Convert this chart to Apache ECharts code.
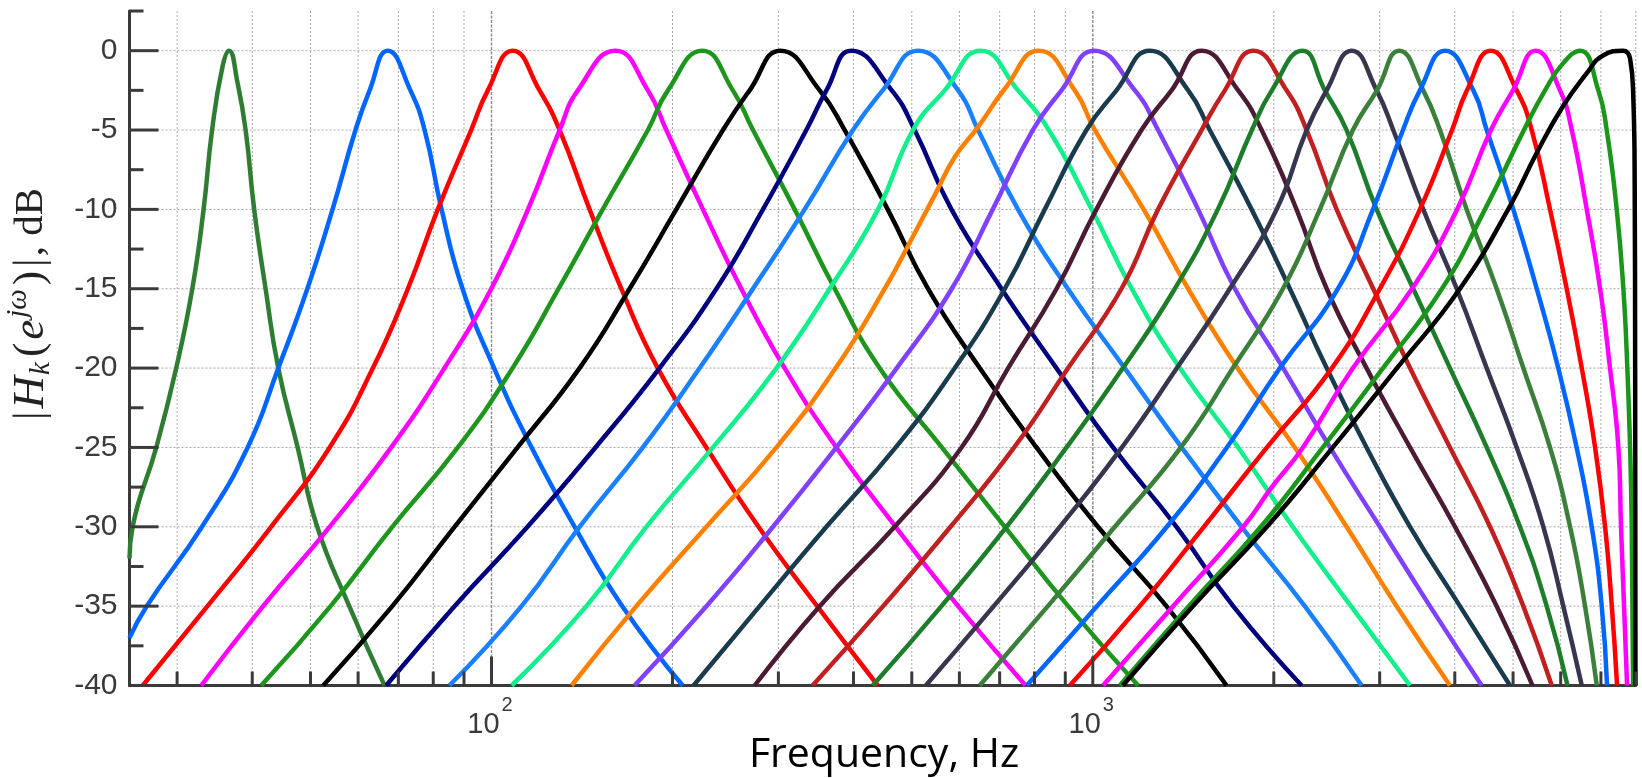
<!DOCTYPE html>
<html>
<head>
<meta charset="utf-8">
<script src="https://cdn.jsdelivr.net/npm/echarts@6/dist/echarts.min.js"></script>
<style>
html,body{margin:0;padding:0;background:#ffffff;}
#chart{width:1642px;height:778px;}
</style>
</head>
<body>
<div id="chart"></div>
<script>
// ---------- axis ranges and ticks ----------
const X_MIN = 25, X_MAX = 8000;
const Y_MIN = -40, Y_MAX = 2.5;
const xGridFreqs = [30,40,50,60,70,80,90,100,200,300,400,500,600,700,800,900,1000,2000,3000,4000,5000,6000,7000,8000];
const xMajorFreqs = [100, 1000];
const xTickBase = ['10', '10'];
const xTickExponent = ['2', '3'];
const yGridValues = [0, -5, -10, -15, -20, -25, -30, -35];
const yTickValues = [2.5, 0, -2.5, -5, -7.5, -10, -12.5, -15, -17.5, -20, -22.5, -25, -27.5, -30, -32.5, -35, -37.5, -40];
const xAxisTitle = 'Frequency, Hz';

// ---------- filter responses: [frequency Hz, magnitude dB] ----------
const filter01 = [[25,-32],[25.3,-30],[27.7,-25],[29.9,-20],[31.8,-15],[33.2,-10],[34.3,-5],[35.7,-1],[36.6,0],[37.8,-2],[39.0,-5],[40.3,-10],[42.1,-15],[44.2,-20],[47.6,-25],[51.3,-30],[58.0,-35],[66.4,-40]];
const filter02 = [[25,-37],[26.7,-35],[33.0,-30],[39.3,-25],[44.2,-20],[49.4,-15],[54.4,-10],[59.4,-5],[62.7,-2.5],[67.2,0],[73.3,-2.5],[77.4,-5],[82.6,-10],[89.5,-15],[101,-20],[116.6,-25],[137.5,-30],[165,-35],[208,-40]];
const filter03 = [[26.3,-40],[33.7,-35],[43.0,-30],[53.8,-25],[63.5,-20],[72.6,-15],[81.4,-10],[92.5,-5],[98.6,-2.5],[108.5,0],[120.2,-2.5],[129.8,-5],[145.6,-10],[164.4,-15],[189,-20],[227.7,-25],[278,-30],[348,-35],[439,-40]];
const filter04 = [[32.9,-40],[41.7,-35],[53.8,-30],[68.1,-25],[83.5,-20],[99.9,-15],[115,-10],[129.8,-5],[139.2,-2.5],[160.8,0],[182,-2.5],[195.3,-5],[224.7,-10],[260.3,-15],[307.3,-20],[374.6,-25],[470,-30],[597,-35],[773,-40]];
const filter05 = [[41.4,-40],[54.0,-35],[68.4,-30],[87.9,-25],[108.4,-20],[129.3,-15],[153.1,-10],[182,-5],[196.5,-2.5],[224.2,0],[252,-2.5],[272.2,-5],[319.3,-10],[372.2,-15],[442,-20],[561,-25],[714,-30],[910,-35],[1190,-40]];
const filter06 = [[52.5,-40],[68.4,-35],[86.8,-30],[110.5,-25],[140.1,-20],[169.7,-15],[202.9,-10],[242.6,-5],[268.7,-2.5],[302.2,0],[351.4,-2.5],[386.7,-5],[456,-10],[532,-15],[648.6,-20],[806,-25],[1020,-30],[1326,-35],[1669,-40]];
const filter07 = [[66.8,-40],[86.8,-35],[114.8,-30],[148.9,-25],[190.3,-20],[236.6,-15],[282.8,-10],[333.9,-5],[360.6,-2.5],[396.7,0],[463.1,-2.5],[505.5,-5],[582,-10],[704.9,-15],[870,-20],[1081,-25],[1378,-30],[1712,-35],[2225,-40]];
const filter08 = [[85.1,-40],[112.2,-35],[140.1,-30],[178.5,-25],[221.9,-20],[272.2,-15],[331.7,-10],[399.2,-5],[447.3,-2.5],[512,0],[597,-2.5],[644.6,-5],[751,-10],[908.7,-15],[1130,-20],[1405,-25],[1768,-30],[2252,-35],[2800,-40]];
const filter09 = [[108,-40],[143.8,-35],[180.9,-30],[233.5,-25],[297.7,-20],[365.1,-15],[439.4,-10],[502.3,-5],[567.2,-2.5],[651.2,0],[751,-2.5],[845,-5],[996,-10],[1161,-15],[1396,-20],[1745,-25],[2151,-30],[2688,-35],[3370,-40]];
const filter10 = [[135.9,-40],[174.1,-35],[227.7,-30],[297.7,-25],[373.6,-20],[450.8,-15],[505.5,-11.5],[545.9,-9.1],[589.5,-6.7],[644.6,-4.8],[714,-2.4],[813.1,0],[933.3,-2.5],[1008,-5],[1215,-10],[1441,-15],[1740,-20],[2168,-25],[2643,-30],[3202,-35],[3927,-40]];
const filter11 = [[172.9,-40],[227.7,-35],[293.9,-30],[374.6,-25],[472,-20],[582.7,-15],[681.7,-10],[794.7,-5],[887,-2.5],[1005,0],[1175,-2.5],[1284,-5],[1497,-10],[1723,-15],[2073,-20],[2480,-25],[3002,-30],[3637,-35],[4434,-40]];
const filter12 = [[216.8,-40],[279.2,-35],[360.6,-30],[470.1,-25],[589.5,-20],[714,-15],[832.1,-10],[976.1,-5],[1095,-2.5],[1244,0],[1441,-2.5],[1565,-5],[1837,-10],[2127,-15],[2449,-20],[2853,-25],[3370,-30],[4080,-35],[4941,-40]];
const filter13 = [[273.9,-40],[351.4,-35],[468.3,-30],[604.8,-25],[723.1,-20],[870.4,-15],[1014,-10],[1205,-5],[1352,-2.5],[1517,0],[1745,-2.5],[1909,-5],[2182,-10],[2449,-15],[2853,-20],[3370,-25],[4003,-30],[4696,-35],[5386,-40]];
const filter14 = [[342,-40],[448,-35],[580,-30],[740,-25],[909.7,-20],[1116,-15],[1284,-10],[1517,-5],[1658,-2.5],[1848,0],[2100,-2.5],[2268,-5],[2544,-10],[2927,-15],[3370,-20],[3927,-25],[4578,-30],[5200,-35],[5798,-40]];
const filter15 = [[430.5,-40],[560.2,-35],[718.7,-30],[904.2,-25],[1122,-20],[1369,-15],[1614,-10],[1839,-5],[1985,-2.5],[2233,0],[2432,-2.5],[2643,-5],[2965,-10],[3412,-15],[3927,-20],[4520,-25],[5134,-30],[5687,-35],[6160,-40]];
const filter16 = [[527.6,-40],[684.4,-35],[881.4,-30],[1118,-25],[1380,-20],[1690,-15],[2022,-10],[2268,-5],[2449,-2.5],[2695,0],[2965,-2.5],[3160,-5],[3545,-10],[4030,-15],[4520,-20],[5070,-25],[5615,-30],[6060,-35],[6505,-40]];
const filter17 = [[648.6,-40],[841.9,-35],[1088,-30],[1401,-25],[1710,-20],[2071,-15],[2386,-10],[2708,-5],[2969,-2.5],[3233,0],[3545,-2.5],[3779,-5],[4186,-10],[4696,-15],[5200,-20],[5760,-25],[6220,-30],[6587,-35],[6890,-40]];
const filter18 = [[776.6,-40],[1016,-35],[1328,-30],[1671,-25],[2047,-20],[2557,-15],[2924,-10],[3280,-5],[3500,-2.5],[3853,0],[4294,-2.5],[4520,-5],[5004,-10],[5474,-15],[5945,-20],[6378,-25],[6758,-30],[7022,-35],[7166,-40]];
const filter19 = [[915.6,-40],[1197,-35],[1530,-30],[1948,-25],[2498,-20],[3002,-15],[3500,-10],[3958,-5],[4191,-2.5],[4588,0],[5070,-2.5],[5370,-5],[5760,-10],[6140,-15],[6505,-20],[6845,-25],[7112,-30],[7298,-35],[7447,-40]];
const filter20 = [[1040,-40],[1360,-35],[1779,-30],[1985,-27.5],[2236,-25],[2708,-20],[3395,-15],[4035,-10],[4594,-5],[4998,-2.5],[5452,0],[5984,-2.5],[6260,-5],[6630,-10],[6978,-15],[7248,-20],[7484,-25],[7560,-30],[7648,-35],[7737,-40]];
const filter21 = [[1109,-40],[1444,-35],[1903,-30],[2413,-25],[3038,-20],[3808,-15],[4490,-10],[5213,-5],[5651,-2.5],[6053,-0.8],[6462,0],[6931,-2.5],[7156,-5],[7436,-10],[7628,-15],[7745,-20],[7827,-25],[7877,-30],[7917,-40]];
const filter22 = [[1122,-40],[1467,-35],[1948,-30],[2507,-25],[3205,-20],[4079,-15],[4923,-9.9],[5481,-6.4],[6053,-3.5],[6637,-1.4],[7057,-0.3],[7620,0],[7827,-0.5],[7925,-3],[7965,-8],[7980,-20],[7990,-40]];

const filterColors = ['#2f7d32','#0066ff','#ff0000','#ff00ff','#1e961e','#000000','#00007f','#1a80ff','#11f08a','#ff8000','#7f40ff','#1a3a4e','#4b1a33','#c12020','#1e7d2a','#37364f','#3a7f3a','#0066ff','#ff0000','#ff00ff','#1a961a','#000000'];
const filters = [filter01,filter02,filter03,filter04,filter05,filter06,filter07,filter08,filter09,filter10,filter11,filter12,filter13,filter14,filter15,filter16,filter17,filter18,filter19,filter20,filter21,filter22];

// ---------- styling ----------
const AXIS_COLOR = '#3a3a3a';
const LABEL_COLOR = '#3a3a3a';
const LABEL_FONT = '"Liberation Sans", Arial, sans-serif';

const chart = echarts.init(document.getElementById('chart'), null, { renderer: 'canvas', width: 1642, height: 778 });

// frame elements (grid lines + tick marks + decade labels), positioned through the axes' scales
const gridItems = [];
xGridFreqs.forEach(f => gridItems.push([f, Y_MIN, 0, xMajorFreqs.indexOf(f)]));
yGridValues.forEach(v => gridItems.push([X_MIN, v, 1, -1]));
const tickItems = [];
xGridFreqs.forEach(f => tickItems.push([f, Y_MIN, 2, xMajorFreqs.indexOf(f)]));
yTickValues.forEach(v => tickItems.push([X_MIN, v, 3, (v % 5 === 0) ? 1 : -1]));

function renderFrame(params, api) {
  const kind = api.value(2);
  const idx = api.value(3);
  const major = idx >= 0;
  if (kind === 0) {
    const f = api.value(0);
    const a = api.coord([f, Y_MAX]), b = api.coord([f, Y_MIN]);
    return { type: 'line', silent: true,
      shape: { x1: a[0], y1: a[1], x2: b[0], y2: b[1] },
      style: { stroke: major ? '#8a8a8a' : '#a8a8a8', lineWidth: major ? 1.4 : 1, lineDash: major ? [3, 1.5] : [2, 2] } };
  }
  if (kind === 1) {
    const v = api.value(1);
    const a = api.coord([X_MIN, v]), b = api.coord([X_MAX, v]);
    return { type: 'line', silent: true,
      shape: { x1: a[0], y1: a[1], x2: b[0], y2: b[1] },
      style: { stroke: '#a8a8a8', lineWidth: 1, lineDash: [2, 2] } };
  }
  if (kind === 2) {
    const p = api.coord([api.value(0), Y_MIN]);
    const len = major ? 29 : 14;
    const children = [{ type: 'line', silent: true,
      shape: { x1: p[0], y1: p[1], x2: p[0], y2: p[1] - len },
      style: { stroke: AXIS_COLOR, lineWidth: 3 } }];
    if (major) {
      children.push({ type: 'text', silent: true, x: p[0] + 8, y: p[1] + 39,
        style: { text: xTickBase[idx], font: '29px ' + LABEL_FONT, fill: LABEL_COLOR,
          align: 'right', verticalAlign: 'middle', textAlign: 'right', textVerticalAlign: 'middle' } });
      children.push({ type: 'text', silent: true, x: p[0] + 10, y: p[1] + 20,
        style: { text: xTickExponent[idx], font: '20px ' + LABEL_FONT, fill: LABEL_COLOR,
          align: 'left', verticalAlign: 'middle', textAlign: 'left', textVerticalAlign: 'middle' } });
    }
    return { type: 'group', children: children };
  }
  const p = api.coord([X_MIN, api.value(1)]);
  const len = major ? 29 : 14;
  return { type: 'line', silent: true,
    shape: { x1: p[0], y1: p[1], x2: p[0] + len, y2: p[1] },
    style: { stroke: AXIS_COLOR, lineWidth: 3 } };
}

const series = [
  { type: 'custom', name: 'grid', data: gridItems, renderItem: renderFrame, clip: false, silent: true, z: 1 }
];
filters.forEach((d, i) => {
  series.push({
    type: 'line', name: 'H' + (i + 1), data: d,
    smooth: 0.5, showSymbol: false, symbol: 'none',
    lineStyle: { width: 4.5, color: filterColors[i] }, itemStyle: { color: filterColors[i] },
    silent: true, animation: false, z: 2, clip: true
  });
});
series.push({ type: 'custom', name: 'ticks', data: tickItems, renderItem: renderFrame, clip: false, silent: true, z: 5 });

const option = {
  animation: false,
  backgroundColor: '#ffffff',
  grid: { left: 129.5, right: 6.2, top: 11, bottom: 92.5, containLabel: false },
  xAxis: {
    type: 'log', logBase: 10, min: X_MIN, max: X_MAX,
    axisLine: { show: true, onZero: false, lineStyle: { color: AXIS_COLOR, width: 3 } },
    axisTick: { show: false }, splitLine: { show: false }, minorTick: { show: false },
    axisLabel: { show: false }
  },
  yAxis: {
    type: 'value', min: Y_MIN, max: Y_MAX, interval: 5,
    axisLine: { show: true, onZero: false, lineStyle: { color: AXIS_COLOR, width: 3 } },
    axisTick: { show: false }, splitLine: { show: false },
    axisLabel: {
      show: true, margin: 12, fontSize: 30, fontFamily: LABEL_FONT, color: LABEL_COLOR,
      formatter: function (v) { return (v <= 0 && Math.abs(v % 5) < 1e-9) ? String(v) : ''; }
    }
  },
  graphic: [
    { type: 'text', x: 884, y: 755, silent: true,
      style: { text: xAxisTitle, font: '41px "Open Sans", Lato, sans-serif', fill: '#000000',
        align: 'center', verticalAlign: 'middle', textAlign: 'center', textVerticalAlign: 'middle' } },
    { type: 'text', x: 31, y: 305, rotation: Math.PI / 2, silent: true,
      style: {
        text: '{n|\u007C}{i|H}{sub|k}{n|(}{i|e}{sup|j\u03C9}{n|)}{n|\u007C}{t|, dB}',
        fill: '#222222', align: 'center', verticalAlign: 'middle', textAlign: 'center', textVerticalAlign: 'middle',
        rich: {
          n: { fontFamily: 'Liberation Serif, serif', fontSize: 43, lineHeight: 58, fill: '#222222', padding: [0, 2, 0, 2] },
          i: { fontFamily: 'Liberation Serif, serif', fontStyle: 'italic', fontSize: 45, lineHeight: 58, fill: '#222222', padding: [0, 1, 0, 1] },
          sub: { fontFamily: 'Liberation Serif, serif', fontStyle: 'italic', fontSize: 29, fill: '#222222', verticalAlign: 'bottom', padding: [0, 3, 4, 0] },
          sup: { fontFamily: 'Liberation Serif, serif', fontStyle: 'italic', fontSize: 29, fill: '#222222', verticalAlign: 'top', padding: [2, 2, 0, 1] },
          t: { fontFamily: 'Liberation Serif, serif', fontSize: 41, lineHeight: 58, fill: '#222222' }
        }
      } }
  ],
  series: series
};
chart.setOption(option);
</script>
</body>
</html>
